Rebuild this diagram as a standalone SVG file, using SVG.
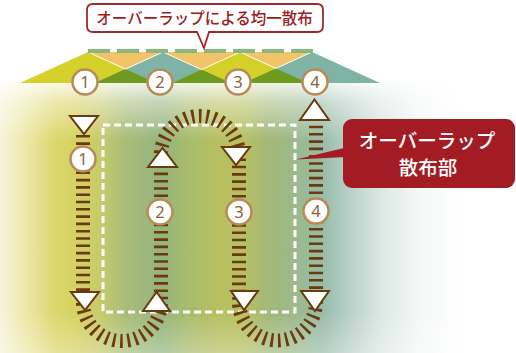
<svg xmlns="http://www.w3.org/2000/svg" width="516" height="353" viewBox="0 0 516 353">
<defs>
<linearGradient id="bgH" x1="0" y1="0" x2="460" y2="0" gradientUnits="userSpaceOnUse">
<stop offset="0" stop-color="#f6f4dc"/>
<stop offset="0.05" stop-color="#eeeaae"/>
<stop offset="0.12" stop-color="#dcd76c"/>
<stop offset="0.16" stop-color="#d6d362"/>
<stop offset="0.22" stop-color="#c6ca6c"/>
<stop offset="0.27" stop-color="#a9bd78"/>
<stop offset="0.35" stop-color="#94b47e"/>
<stop offset="0.41" stop-color="#a8bc6c"/>
<stop offset="0.48" stop-color="#b8c060"/>
<stop offset="0.53" stop-color="#b6c062"/>
<stop offset="0.58" stop-color="#a4b878"/>
<stop offset="0.64" stop-color="#9cb98a"/>
<stop offset="0.70" stop-color="#97bca8"/>
<stop offset="0.76" stop-color="#b8d0c8"/>
<stop offset="0.83" stop-color="#dce8e4"/>
<stop offset="0.91" stop-color="#f4f8f6"/>
<stop offset="1" stop-color="#ffffff"/>
</linearGradient>
<linearGradient id="fadeV" x1="0" y1="80" x2="0" y2="353" gradientUnits="userSpaceOnUse">
<stop offset="0" stop-color="#fff" stop-opacity="0.1"/>
<stop offset="0.08" stop-color="#fff" stop-opacity="0.55"/>
<stop offset="0.22" stop-color="#fff" stop-opacity="1"/>
<stop offset="0.85" stop-color="#fff" stop-opacity="1"/>
<stop offset="1" stop-color="#fff" stop-opacity="0.7"/>
</linearGradient>
<mask id="m" maskUnits="userSpaceOnUse" x="0" y="0" width="516" height="353">
<rect x="0" y="80" width="516" height="273" fill="url(#fadeV)"/>
</mask>
<style>
.tri{fill:#fff;stroke:#6b3a0e;stroke-width:2;stroke-linejoin:miter}
.circ{fill:#fff;stroke:#b98a55;stroke-width:2.5}
.num{font-family:"Noto Sans","DejaVu Sans",sans-serif;font-size:16.5px;fill:#8c6239;text-anchor:middle}
.hatch{fill:none;stroke:#6b3a0e;stroke-width:14;stroke-dasharray:2.6 4.7}
.jp{font-family:"Noto Sans CJK JP","Noto Sans",sans-serif;font-weight:500}
</style>
</defs>

<g id="background">
<rect x="0" y="80" width="516" height="273" fill="url(#bgH)" mask="url(#m)"/>
</g>

<g id="spray-fans">
<polygon points="88,52 312,52 312,72 88,72" fill="#f1c46a"/>
<polygon points="88,52 20,83 156,83" fill="#d6d12a"/>
<polygon points="163,52 95,83 231,83" fill="#7fb3a6"/>
<polygon points="240,52 172,83 308,83" fill="#d6d12a"/>
<polygon points="312,52 244,83 380,83" fill="#7fb3a6"/>
<polygon points="125.5,69.1 95,83 156,83" fill="#6e9b1f"/>
<polygon points="201.5,69.6 172,83 231,83" fill="#6e9b1f"/>
<polygon points="276,68.4 244,83 308,83" fill="#6e9b1f"/>
<polyline points="88,52 125.5,69.1 163,52 201.5,69.6 240,52 276,68.4 312,52" fill="none" stroke="#fff" stroke-width="1"/>
<line x1="88" y1="51" x2="313" y2="51" stroke="#8ab87c" stroke-width="4" stroke-dasharray="22 7"/>
</g>

<g id="top-nozzles">
<circle class="circ" cx="85" cy="82" r="12.5"/><text class="num" x="85" y="88">1</text>
<circle class="circ" cx="160" cy="82" r="12.5"/><text class="num" x="160" y="88">2</text>
<circle class="circ" cx="238" cy="82" r="12.5"/><text class="num" x="238" y="88">3</text>
<circle class="circ" cx="315" cy="82" r="12.5"/><text class="num" x="315" y="88">4</text>
</g>

<g id="overlap-area">
<rect x="103" y="125" width="192" height="187" fill="none" stroke="#fff" stroke-width="3" stroke-dasharray="7 4"/>
</g>

<g id="connectors">
<path class="hatch" d="M 83 135 L 83 302 A 39 39 0 0 0 161 302 L 161 155 A 39 39 0 0 1 239 155 L 239 302 A 38.5 38.5 0 0 0 316 302 L 316 121"/>
</g>

<g id="arrows">
<polygon class="tri" points="70,116 98,116 84,134"/>
<polygon class="tri" points="71,292 99,292 85,310"/>
<polygon class="tri" points="143,311 170,311 156.5,292"/>
<polygon class="tri" points="148,167 177,167 162.5,148"/>
<polygon class="tri" points="222,147 250,147 236,165"/>
<polygon class="tri" points="231,291 258,291 244,310"/>
<polygon class="tri" points="301,291 329,291 315,311"/>
<polygon class="tri" points="300,120 329,120 314.5,99.5"/>
</g>

<g id="pass-labels">
<circle class="circ" cx="83" cy="159" r="12.5"/><text class="num" x="83" y="165">1</text>
<circle class="circ" cx="160" cy="212" r="12.5"/><text class="num" x="160" y="218">2</text>
<circle class="circ" cx="239" cy="212" r="12.5"/><text class="num" x="239" y="218">3</text>
<circle class="circ" cx="316" cy="211" r="12.5"/><text class="num" x="316" y="217">4</text>
</g>

<g id="callout-top">
<path d="M 93 4 H 317 Q 323 4 323 10 V 26 Q 323 32 317 32 H 209 L 204 48 L 197 32 H 93 Q 87 32 87 26 V 10 Q 87 4 93 4 Z" fill="#fff" stroke="#a3262b" stroke-width="1.8"/>
<text class="jp" x="204.5" y="24" font-size="15.5" fill="#9b1b20" text-anchor="middle">オーバーラップによる均一散布</text>
</g>

<g id="callout-right">
<polygon points="346,147.5 346,157 296,159.5" fill="#a31c24"/>
<rect x="343" y="119" width="172" height="69" rx="9" ry="9" fill="#a31c24"/>
<text class="jp" x="427" y="147.5" font-size="19.5" fill="#fff" text-anchor="middle">オーバーラップ</text>
<text class="jp" x="428" y="174.5" font-size="19.5" fill="#fff" text-anchor="middle">散布部</text>
</g>
</svg>
